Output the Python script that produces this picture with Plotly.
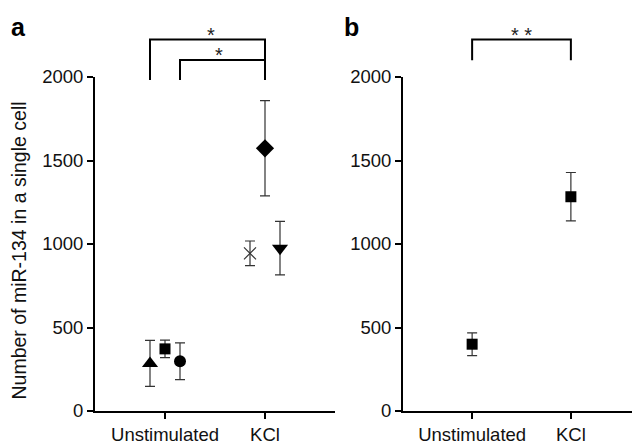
import plotly.graph_objects as go

# ---- data ----
categories = ["Unstimulated", "KCl"]
cat_pos = [0, 1]

# panel a: individual series (x offset, mean, error)
a_symbols = ["triangle-up", "square", "circle", "x-thin", "diamond", "triangle-down"]
a_x = [-0.15, 0.0, 0.15, 0.85, 1.0, 1.15]
a_mean = [285, 372, 298, 944, 1573, 975]
a_err = [138, 52, 110, 74, 285, 160]
a_size = [14, 11, 12, 12, 14, 14]

# panel b: pooled
b_x = [0, 1]
b_mean = [400, 1283]
b_err = [68, 145]

y_ticks = [0, 500, 1000, 1500, 2000]
y_range = [0, 2000]
x_range = [-0.7, 1.7]

ytitle = "Number of miR-134 in a single cell"

# page body adds an 8px offset; figure is sized to fill the rest of the window
W, H = 632, 436
PT, PB = 69, 403  # plot top/bottom in figure pixels

fig = go.Figure()

err_style = dict(type="data", thickness=1.2, width=5, color="#333333")

for s, x, m, e, sz in zip(a_symbols, a_x, a_mean, a_err, a_size):
    mk = dict(symbol=s, size=sz, color="black")
    if s == "x-thin":
        mk["line"] = dict(width=1.2, color="#333333")
    fig.add_trace(go.Scatter(x=[x], y=[m], mode="markers", marker=mk,
                             error_y=dict(array=[e], **err_style),
                             xaxis="x", yaxis="y", showlegend=False))

fig.add_trace(go.Scatter(x=b_x, y=b_mean, mode="markers",
                         marker=dict(symbol="square", size=11, color="black"),
                         error_y=dict(array=b_err, **err_style),
                         xaxis="x2", yaxis="y2", showlegend=False))

tickfont = dict(family="Liberation Sans, Arial", size=18.5, color="#111111")
common_x = dict(range=x_range, tickvals=cat_pos, ticktext=categories, showgrid=False,
                zeroline=False, showline=True, linecolor="black", linewidth=2,
                ticks="outside", ticklen=6, tickwidth=1.5, tickcolor="black",
                tickfont=tickfont, fixedrange=True)
common_y = dict(range=y_range, tickvals=y_ticks, showgrid=False, zeroline=False,
                showline=True, linecolor="black", linewidth=2, ticks="outside",
                ticklen=6, tickwidth=1.5, tickcolor="black", tickfont=tickfont,
                fixedrange=True)

fig.update_layout(
    width=W, height=H,
    margin=dict(l=0, r=0, t=PT, b=H - PB, autoexpand=False),
    plot_bgcolor="white", paper_bgcolor="white",
    xaxis=dict(domain=[87 / W, 327 / W], anchor="y", **common_x),
    yaxis=dict(domain=[0, 1], anchor="x", **common_y),
    xaxis2=dict(domain=[395 / W, 1.0], anchor="y2", **common_x),
    yaxis2=dict(domain=[0, 1], anchor="x2", **common_y),
)


def xfrac(x):
    return (x - x_range[0]) / (x_range[1] - x_range[0])


def bracket(xa, x0, x1, ytop, yleft, yright):
    xr = xa + " domain"
    yr = ("y" if xa == "x" else "y2") + " domain"
    path = (f"M {xfrac(x0)},{yleft} L {xfrac(x0)},{ytop} "
            f"L {xfrac(x1)},{ytop} L {xfrac(x1)},{yright}")
    fig.add_shape(type="path", path=path, xref=xr, yref=yr,
                  line=dict(color="black", width=2))


# brackets: panel a
bracket("x", a_x[0], 1.0, 1.112, 0.991, 0.991)
bracket("x", a_x[2], 1.0, 1.051, 0.991, 0.991)
# panel b
bracket("x2", 0, 1, 1.112, 1.05, 1.05)

star_font = dict(family="Liberation Sans, Arial", size=20, color="#222222")
fig.add_annotation(x=0.46, y=1.112, xref="x", yref="y domain", text="*",
                   showarrow=False, yanchor="bottom", font=star_font, yshift=-8)
fig.add_annotation(x=0.54, y=1.051, xref="x", yref="y domain", text="*",
                   showarrow=False, yanchor="bottom", font=star_font, yshift=-8)
fig.add_annotation(x=0.5, y=1.112, xref="x2", yref="y2 domain", text="* *",
                   showarrow=False, yanchor="bottom", font=star_font, yshift=-8)

# panel labels
lab_font = dict(family="Liberation Sans, Arial", size=25, color="black")
fig.add_annotation(x=10 / W, y=1.15, xref="paper", yref="paper", text="<b>a</b>",
                   showarrow=False, xanchor="center", yanchor="middle", font=lab_font)
fig.add_annotation(x=343 / W, y=1.15, xref="paper", yref="paper", text="<b>b</b>",
                   showarrow=False, xanchor="center", yanchor="middle", font=lab_font)

# y title
fig.add_annotation(x=10 / W, y=(PB - 242.5) / (PB - PT), xref="paper", yref="paper",
                   text=ytitle, textangle=-90, showarrow=False, xanchor="center",
                   yanchor="middle",
                   font=dict(family="Liberation Sans, Arial", size=19.5, color="#111111"))

fig.write_html("out.html")
